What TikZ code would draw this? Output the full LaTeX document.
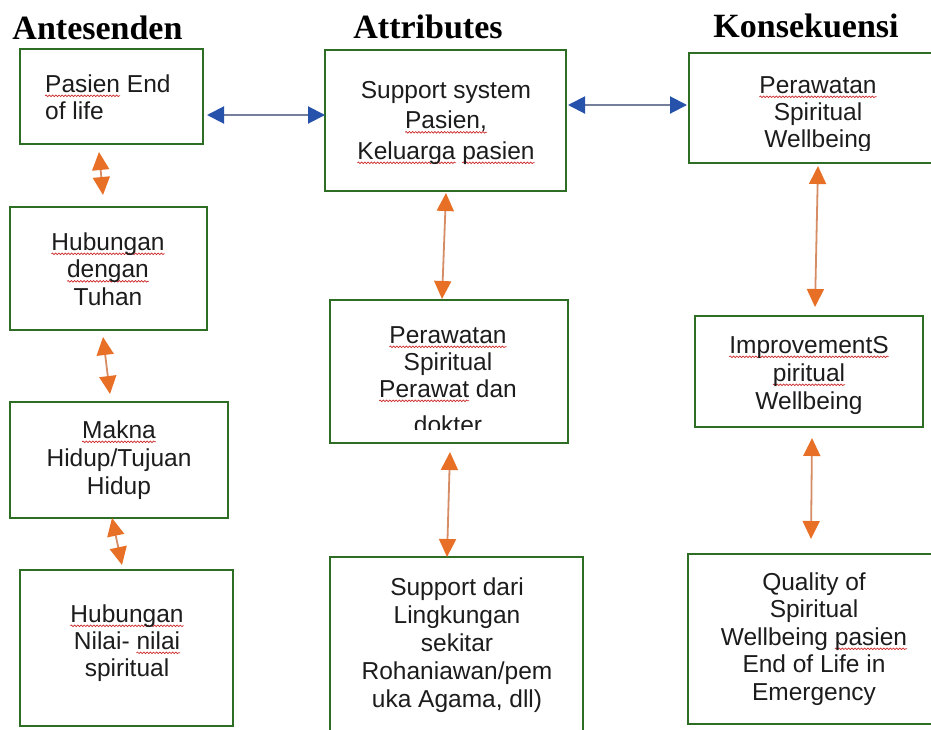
\documentclass[tikz,border=0pt]{standalone}
\usepackage{fontspec}
\setmainfont{Liberation Sans}
\newfontfamily\titlefont{Liberation Serif}
\usetikzlibrary{arrows.meta,decorations.pathmorphing}
\definecolor{boxgreen}{RGB}{46,110,36}
\definecolor{txt}{RGB}{28,28,28}
\definecolor{ohead}{RGB}{232,112,38}
\definecolor{oline}{RGB}{214,140,100}
\definecolor{bhead}{RGB}{38,82,172}
\definecolor{bline}{RGB}{118,126,158}
\definecolor{squig}{RGB}{205,40,40}
\newsavebox\sqbox
\newdimen\sqwd
\newcommand\sq[1]{\sbox\sqbox{#1}\sqwd=\wd\sqbox\rlap{\tikz[overlay]\draw[squig, line width=0.7pt, decorate, decoration={snake, amplitude=0.8pt, segment length=3.2pt}] (0pt,-3.8pt) -- (\the\sqwd,-3.8pt);}\usebox\sqbox}
\newcommand\clines[2]{\vtop{\baselineskip=#1pt\lineskiplimit=-1000pt\lineskip=0pt\halign{\hfil##\hfil\cr#2\crcr}}}
\newcommand\llines[2]{\vtop{\baselineskip=#1pt\lineskiplimit=-1000pt\lineskip=0pt\halign{##\hfil\cr#2\crcr}}}
\tikzset{
  box/.style={draw=boxgreen, line width=2.4pt, inner sep=0pt},
  body/.style={inner sep=0pt, anchor=base, text=txt, font=\fontsize{24.5}{27.5}\selectfont},
  heading/.style={inner sep=0pt, anchor=base, text=black, font=\titlefont\bfseries\fontsize{34}{40}\selectfont},
  oarr/.style={draw=oline, line width=1.8pt, {Triangle[length=18pt,width=17pt,color=ohead]}-{Triangle[length=18pt,width=17pt,color=ohead]}},
  barr/.style={draw=bline, line width=2pt, {Triangle[length=17pt,width=17pt,color=bhead]}-{Triangle[length=17pt,width=17pt,color=bhead]}}
}
\begin{document}
\begin{tikzpicture}[x=1pt,y=-1pt]
\useasboundingbox (0,0) rectangle (931,729);
\clip (0,0) rectangle (931,729);
\fill[white] (0,0) rectangle (931,729);
% headings
\node[heading] (h1) at (97.5,39) {Antesenden};
\node[heading] (h2) at (428,38) {Attributes};
\node[heading] (h3) at (806,37) {Konsekuensi};
% boxes
\node[box, minimum width=183pt, minimum height=95pt] (b1) at (111.5,96.5) {};
\node[box, minimum width=197pt, minimum height=123pt] (b2) at (108.5,268.5) {};
\node[box, minimum width=218pt, minimum height=116pt] (b3) at (119,460) {};
\node[box, minimum width=213pt, minimum height=156pt] (b4) at (126.5,648) {};
\node[box, minimum width=241pt, minimum height=141pt] (m1) at (445.5,120.5) {};
\node[box, minimum width=238pt, minimum height=143pt] (m2) at (449,371.5) {};
\node[box, minimum width=253pt, minimum height=188pt] (m3) at (456.5,651) {};
\node[box, minimum width=256pt, minimum height=110pt] (r1) at (817,108) {};
\node[box, minimum width=228pt, minimum height=111pt] (r2) at (809,371.5) {};
\node[box, minimum width=257pt, minimum height=170pt] (r3) at (816.5,639) {};
% texts
\node[body, anchor=base west] (t1) at (45,92) {\llines{27}{\sq{Pasien} End\cr of life}};
\node[body] (t2) at (108,250) {\clines{27.5}{\sq{Hubungan}\cr \sq{dengan}\cr Tuhan}};
\node[body] (t3) at (119,438) {\clines{28}{\sq{Makna}\cr Hidup/Tujuan\cr Hidup}};
\node[body] (t4) at (127,622) {\clines{27}{\sq{Hubungan}\cr Nilai- \sq{nilai}\cr spiritual}};
\node[body] (t5) at (446,98) {\clines{30.5}{Support system\cr \sq{Pasien,}\cr \sq{Keluarga} \sq{pasien}}};
\begin{scope}
\clip (330,300) rectangle (568,429);
\node[body] (t6) at (448,343) {\clines{27}{\sq{Perawatan}\cr Spiritual\cr \sq{Perawat} dan\cr\noalign{\vskip 9pt} dokter}};
\end{scope}
\node[body] (t7) at (457,595) {\clines{28.2}{Support dari\cr Lingkungan\cr sekitar\cr Rohaniawan/pem\cr uka Agama, dll)}};
\begin{scope}
\clip (689,53) rectangle (931,150.5);
\node[body] (t8) at (818,93) {\clines{27}{\sq{Perawatan}\cr Spiritual\cr Wellbeing}};
\end{scope}
\node[body] (t9) at (809,353) {\clines{28}{\sq{ImprovementS}\cr \sq{piritual}\cr Wellbeing}};
\node[body] (t10) at (814,590) {\clines{27.5}{Quality of\cr Spiritual\cr Wellbeing \sq{pasien}\cr End of Life in\cr Emergency}};
% connector end points
\coordinate (p1a) at (207,115); \coordinate (p1b) at (325,115);
\coordinate (p2a) at (568,105); \coordinate (p2b) at (687,105);
\coordinate (p3a) at (99,152);  \coordinate (p3b) at (103,195);
\coordinate (p4a) at (103,337); \coordinate (p4b) at (110,394);
\coordinate (p5a) at (112,518); \coordinate (p5b) at (122,565);
\coordinate (p6a) at (446,193); \coordinate (p6b) at (442,299);
\coordinate (p7a) at (450,452); \coordinate (p7b) at (447,557);
\coordinate (p8a) at (818,166); \coordinate (p8b) at (815,307);
\coordinate (p9a) at (812,438); \coordinate (p9b) at (811,539);
% connectors
\draw[barr] (p1a) -- (p1b);
\draw[barr] (p2a) -- (p2b);
\draw[oarr] (p3a) -- (p3b);
\draw[oarr] (p4a) -- (p4b);
\draw[oarr] (p5a) -- (p5b);
\draw[oarr] (p6a) -- (p6b);
\draw[oarr] (p7a) -- (p7b);
\draw[oarr] (p8a) -- (p8b);
\draw[oarr] (p9a) -- (p9b);
\end{tikzpicture}
\end{document}
